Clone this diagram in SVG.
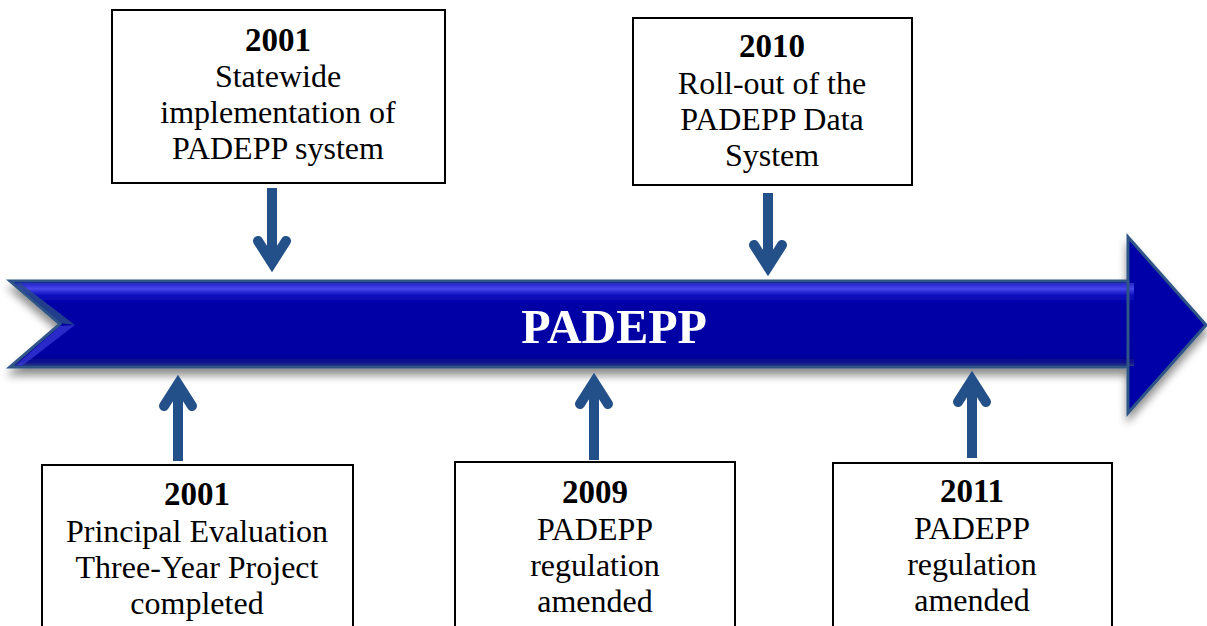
<svg xmlns="http://www.w3.org/2000/svg" width="1207" height="626" viewBox="0 0 1207 626">
<style>
.box{fill:#ffffff;stroke:#000000;stroke-width:2}
.t{font-family:"Liberation Serif","Times New Roman",serif;font-size:32px;fill:#000000;text-anchor:middle}
.y{font-weight:bold;font-size:33px}
.shaft{stroke:#245089;stroke-width:10;fill:none}
.head{stroke:#245089;stroke-width:10;fill:none;stroke-linecap:round;stroke-linejoin:miter;stroke-miterlimit:10}
.title{font-family:"Liberation Serif","Times New Roman",serif;font-size:48px;font-weight:bold;fill:#ffffff;text-anchor:middle}
</style>
<defs>
<filter id="sh" x="-5%" y="-20%" width="110%" height="150%">
<feGaussianBlur in="SourceAlpha" stdDeviation="4"/>
<feOffset dx="0" dy="7" result="b"/>
<feComponentTransfer><feFuncA type="linear" slope="0.45"/></feComponentTransfer>
<feMerge><feMergeNode/><feMergeNode in="SourceGraphic"/></feMerge>
</filter>
<linearGradient id="band" x1="0" y1="281" x2="0" y2="367" gradientUnits="userSpaceOnUse">
<stop offset="0" stop-color="#2c4f8c"/>
<stop offset="0.04" stop-color="#2a2ad0"/>
<stop offset="0.09" stop-color="#4646ea"/>
<stop offset="0.16" stop-color="#1212c0"/>
<stop offset="0.26" stop-color="#0000a6"/>
<stop offset="0.85" stop-color="#0000a2"/>
<stop offset="0.94" stop-color="#0a0a8c"/>
<stop offset="1" stop-color="#2a4a80"/>
</linearGradient>
</defs>

<g id="timeline" filter="url(#sh)">
<path d="M10,281 L1128,281 L1128,237 L1206,325 L1128,413 L1128,367 L10,367 L60,324 Z" fill="#0000a8" stroke="#2f5585" stroke-width="3" stroke-linejoin="miter"/>
<path d="M14,283 L1134,283 L1134,366 L14,366 L63,324 Z" fill="url(#band)"/>
<path d="M1128,281 L1128,366" stroke="#2f5585" stroke-width="3"/>
<path d="M16,284 L60,323 L75,325 L20,283 Z" fill="#2b4e86" opacity="0.8"/>
<path d="M16,365 L60,326 L75,325 L22,366 Z" fill="#3a3ad8" opacity="0.7"/>
<text class="title" x="614" y="343">PADEPP</text>
</g>

<g id="connectors">
<line class="shaft" x1="272" y1="188" x2="272" y2="262"/>
<path class="head" d="M258,241 L272,263 L286,241"/>
<line class="shaft" x1="768" y1="193" x2="768" y2="266"/>
<path class="head" d="M754,245 L768,267 L782,245"/>
<line class="shaft" x1="178" y1="461" x2="178" y2="386"/>
<path class="head" d="M164,406 L178,384 L192,406"/>
<line class="shaft" x1="594" y1="460" x2="594" y2="383"/>
<path class="head" d="M580,404 L594,382 L608,404"/>
<line class="shaft" x1="972" y1="458" x2="972" y2="381"/>
<path class="head" d="M958,402 L972,380 L986,402"/>
</g>

<g id="n2001a">
<rect class="box" x="112" y="10" width="333" height="173"/>
<text class="t y" x="278" y="51">2001</text>
<text class="t" x="278" y="87">Statewide</text>
<text class="t" x="278" y="123">implementation of</text>
<text class="t" x="278" y="159">PADEPP system</text>
</g>

<g id="n2010">
<rect class="box" x="633" y="18" width="279" height="167"/>
<text class="t y" x="772" y="57">2010</text>
<text class="t" x="772" y="94">Roll-out of the</text>
<text class="t" x="772" y="130">PADEPP Data</text>
<text class="t" x="772" y="166">System</text>
</g>

<g id="n2001b">
<rect class="box" x="42" y="465" width="311" height="180"/>
<text class="t y" x="197" y="505">2001</text>
<text class="t" x="197" y="542">Principal Evaluation</text>
<text class="t" x="197" y="578">Three-Year Project</text>
<text class="t" x="197" y="614">completed</text>
</g>

<g id="n2009">
<rect class="box" x="455" y="462" width="280" height="183"/>
<text class="t y" x="595" y="503">2009</text>
<text class="t" x="595" y="540">PADEPP</text>
<text class="t" x="595" y="576">regulation</text>
<text class="t" x="595" y="612">amended</text>
</g>

<g id="n2011">
<rect class="box" x="833" y="463" width="279" height="182"/>
<text class="t y" x="972" y="502">2011</text>
<text class="t" x="972" y="539">PADEPP</text>
<text class="t" x="972" y="575">regulation</text>
<text class="t" x="972" y="611">amended</text>
</g>
</svg>
